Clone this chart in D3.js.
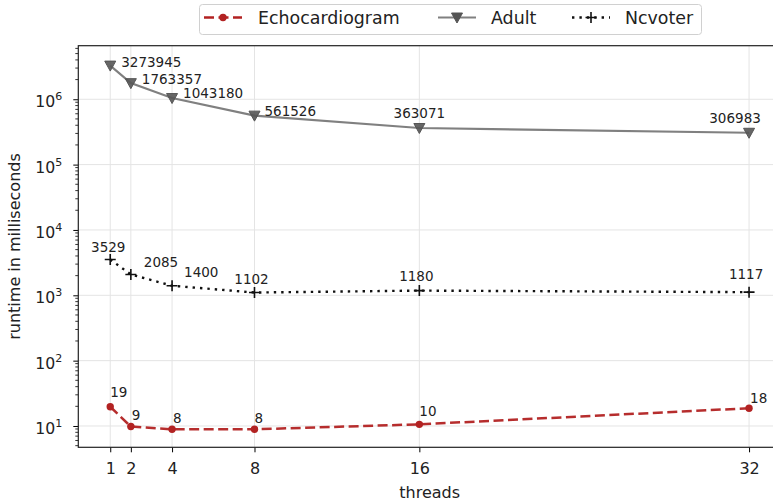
<!DOCTYPE html>
<html>
<head>
<meta charset="utf-8">
<script src="https://cdn.jsdelivr.net/npm/d3@7"></script>
<style>
  body { margin: 0; background: #fff; }
  text { font-family: "DejaVu Sans", sans-serif; }
</style>
</head>
<body>
<div id="chart"></div>
<script>
// data
var threads = [1, 2, 4, 8, 16, 32];
var xTicks = [1, 2, 4, 8, 16, 32];
var yTicks = [1e1, 1e2, 1e3, 1e4, 1e5, 1e6];
var seriesNames = ["Echocardiogram", "Adult", "Ncvoter"];
var echoValues = [19.7, 9.8, 8.9, 8.9, 10.6, 18.7];
var adultValues = [3273945, 1763357, 1043180, 561526, 363071, 306983];
var ncvoterValues = [3529, 2085, 1400, 1102, 1180, 1117];

// label placement (pixels from the point), one entry per point
var adultLabelPos = [[11, 1, "start"], [11, 1, "start"], [11, 0, "start"], [10, 0, "start"], [0, -10, "middle"], [-14, -10, "middle"]];
var ncvoterLabelPos = [[-2, -7, "middle"], [13, -7, "start"], [12, -9, "start"], [-3, -9, "middle"], [-3, -10, "middle"], [-3, -13, "middle"]];
var echoLabelPos = [[0, -10, "start"], [1, -7, "start"], [1, -6, "start"], [0, -6, "start"], [0, -8, "start"], [1, -5, "start"]];

// set the dimensions and margins of the graph
var W = 773, H = 504;
var margin = {top: 45.7, left: 78.3},
    width = 702.7,   // right edge sits past the picture (cropped)
    height = 401.6;

var svg = d3.select("#chart")
  .append("svg")
    .attr("width", W)
    .attr("height", H);

var g = svg.append("g")
    .attr("transform", "translate(" + margin.left + "," + margin.top + ")");

var x = d3.scaleLinear().domain([-0.55, 33.55]).range([0, width]);
var y = d3.scaleLog().domain([4.72, 6.6e6]).range([height, 0]);

// grid
g.append("g").selectAll("line").data(xTicks).enter().append("line")
    .attr("x1", function(d) { return x(d); })
    .attr("x2", function(d) { return x(d); })
    .attr("y1", 0).attr("y2", height)
    .attr("stroke", "#e4e4e4").attr("stroke-width", 1);
g.append("g").selectAll("line").data(yTicks).enter().append("line")
    .attr("y1", function(d) { return y(d); })
    .attr("y2", function(d) { return y(d); })
    .attr("x1", 0).attr("x2", width)
    .attr("stroke", "#e4e4e4").attr("stroke-width", 1);

// minor ticks on log axis
var minor = [];
for (var e = 0; e <= 6; e++) {
  for (var m = 2; m <= 9; m++) {
    var v = m * Math.pow(10, e);
    if (v >= 4.72 && v <= 6.6e6) minor.push(v);
  }
}
g.append("g").selectAll("line").data(minor).enter().append("line")
    .attr("y1", function(d) { return y(d); })
    .attr("y2", function(d) { return y(d); })
    .attr("x1", 0).attr("x2", -3)
    .attr("stroke", "#000").attr("stroke-width", 0.8);

// Y axis
var yAxis = g.append("g")
    .call(d3.axisLeft(y).tickValues(yTicks).tickSize(5).tickFormat(""));
yAxis.select(".domain").remove();
yAxis.selectAll(".tick line").attr("stroke-width", 1);

var yLab = g.append("g").selectAll("text").data(yTicks).enter().append("text")
    .attr("x", -16)
    .attr("y", function(d) { return y(d) + 8; })
    .attr("text-anchor", "end")
    .style("font-size", "15.7px")
    .attr("fill", "#222");
yLab.append("tspan").text("10");
yLab.append("tspan")
    .attr("dy", -7)
    .style("font-size", "11px")
    .text(function(d) { return Math.round(Math.log10(d)); });

// X axis
var xAxis = g.append("g")
    .attr("transform", "translate(0," + height + ")")
    .call(d3.axisBottom(x).tickValues(xTicks).tickSize(5).tickPadding(4));
xAxis.select(".domain").remove();
xAxis.selectAll(".tick line").attr("stroke-width", 1);
xAxis.selectAll(".tick text")
    .attr("y", 26.7)
    .attr("dy", 0)
    .style("font-size", "16px")
    .style("font-family", "DejaVu Sans")
    .attr("fill", "#222");

// spines
g.append("rect")
    .attr("x", 0).attr("y", 0)
    .attr("width", width).attr("height", height)
    .attr("fill", "none")
    .attr("stroke", "#222")
    .attr("stroke-width", 1.2);

// axis titles
svg.append("text")
    .attr("x", margin.left + width / 2)
    .attr("y", 498)
    .attr("text-anchor", "middle")
    .style("font-size", "16px")
    .attr("fill", "#222")
    .text("threads");
svg.append("text")
    .attr("transform", "rotate(-90)")
    .attr("x", -(margin.top + height / 2))
    .attr("y", 20)
    .attr("text-anchor", "middle")
    .style("font-size", "16px")
    .attr("fill", "#222")
    .text("runtime in milliseconds");

var line = d3.line()
    .x(function(d) { return x(d.t); })
    .y(function(d) { return y(d.v); });

function pairs(vals) {
  return threads.map(function(t, i) { return {t: t, v: vals[i]}; });
}

var triDown = "M-5.5,-4.5L5.5,-4.5L0,5.5Z";
var plusPath = "M-5.5,0H5.5M0,-5.5V5.5";

// Adult
g.append("path")
    .datum(pairs(adultValues))
    .attr("d", line)
    .attr("fill", "none")
    .attr("stroke", "#808080")
    .attr("stroke-width", 2.2);
g.append("g").selectAll("path").data(pairs(adultValues)).enter().append("path")
    .attr("d", triDown)
    .attr("transform", function(d) { return "translate(" + x(d.t) + "," + y(d.v) + ")"; })
    .attr("fill", "#555")
    .attr("fill-opacity", 0.9)
    .attr("stroke", "#555")
    .attr("stroke-width", 1);

// Ncvoter
g.append("path")
    .datum(pairs(ncvoterValues))
    .attr("d", line)
    .attr("fill", "none")
    .attr("stroke", "#111")
    .attr("stroke-width", 2.4)
    .attr("stroke-dasharray", "2.4,5");
g.append("g").selectAll("path").data(pairs(ncvoterValues)).enter().append("path")
    .attr("d", plusPath)
    .attr("transform", function(d) { return "translate(" + x(d.t) + "," + y(d.v) + ")"; })
    .attr("stroke", "#111")
    .attr("stroke-width", 1.6);

// Echocardiogram
g.append("path")
    .datum(pairs(echoValues))
    .attr("d", line)
    .attr("fill", "none")
    .attr("stroke", "#b22222")
    .attr("stroke-opacity", 0.95)
    .attr("stroke-width", 2.5)
    .attr("stroke-dasharray", "10,4.5");
g.append("g").selectAll("circle").data(pairs(echoValues)).enter().append("circle")
    .attr("cx", function(d) { return x(d.t); })
    .attr("cy", function(d) { return y(d.v); })
    .attr("r", 3.7)
    .attr("fill", "#b22222");

// value labels
function labels(vals, pos) {
  g.append("g").selectAll("text").data(pairs(vals)).enter().append("text")
      .attr("x", function(d, i) { return x(d.t) + pos[i][0]; })
      .attr("y", function(d, i) { return y(d.v) + pos[i][1]; })
      .attr("text-anchor", function(d, i) { return pos[i][2]; })
      .style("font-size", "13.5px")
      .attr("fill", "#222")
      .text(function(d) { return Math.floor(d.v); });
}
labels(adultValues, adultLabelPos);
labels(ncvoterValues, ncvoterLabelPos);
labels(echoValues, echoLabelPos);

// legend
var leg = svg.append("g");
leg.append("rect")
    .attr("x", 199.5).attr("y", 4.5)
    .attr("width", 502).attr("height", 30)
    .attr("rx", 3)
    .attr("fill", "#fff")
    .attr("stroke", "#d0d0d0");

var legItems = [
  {name: seriesNames[0], tx: 258},
  {name: seriesNames[1], tx: 491},
  {name: seriesNames[2], tx: 625}
];
var ly = 17.5;
// echo handle
leg.append("line").attr("x1", 204).attr("x2", 242).attr("y1", ly).attr("y2", ly)
    .attr("stroke", "#b22222").attr("stroke-width", 2.5).attr("stroke-dasharray", "10,4.5");
leg.append("circle").attr("cx", 223).attr("cy", ly).attr("r", 3.7).attr("fill", "#b22222");
// adult handle
leg.append("line").attr("x1", 438).attr("x2", 476).attr("y1", ly).attr("y2", ly)
    .attr("stroke", "#808080").attr("stroke-width", 2.2);
leg.append("path").attr("d", triDown)
    .attr("transform", "translate(457," + ly + ")")
    .attr("fill", "#555").attr("stroke", "#555");
// ncvoter handle
leg.append("line").attr("x1", 572).attr("x2", 610).attr("y1", ly).attr("y2", ly)
    .attr("stroke", "#111").attr("stroke-width", 2.4).attr("stroke-dasharray", "2.4,5");
leg.append("path").attr("d", plusPath)
    .attr("transform", "translate(591," + ly + ")")
    .attr("stroke", "#111").attr("stroke-width", 1.6);

leg.selectAll("text.l").data(legItems).enter().append("text")
    .attr("x", function(d) { return d.tx; })
    .attr("y", ly + 6)
    .style("font-size", "17.4px")
    .attr("fill", "#222")
    .text(function(d) { return d.name; });
</script>
</body>
</html>
